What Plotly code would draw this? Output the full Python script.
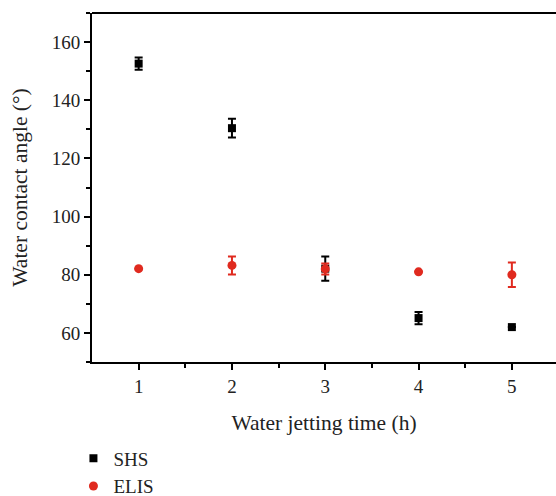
import plotly.graph_objects as go

time_h = [1, 2, 3, 4, 5]
shs_angle = [152.6, 130.4, 82.1, 65.1, 62.0]
shs_err = [2.1, 3.2, 4.2, 2.1, 0.0]
elis_angle = [82.1, 83.2, 82.0, 81.0, 80.0]
elis_err = [0.0, 3.1, 1.9, 0.0, 4.2]

font_family = "Liberation Serif"
red = "#e02a1f"

fig = go.Figure()
fig.add_trace(go.Scatter(
    x=time_h, y=shs_angle, mode="markers", name="SHS",
    marker=dict(symbol="square", size=8, color="black"),
    error_y=dict(type="data", array=shs_err, visible=True, color="black", thickness=2, width=4),
))
fig.add_trace(go.Scatter(
    x=time_h, y=elis_angle, mode="markers", name="ELIS",
    marker=dict(symbol="circle", size=9, color=red),
    error_y=dict(type="data", array=elis_err, visible=True, color=red, thickness=2, width=4),
))

axis_common = dict(
    showgrid=False, zeroline=False, showline=True, linecolor="black", linewidth=2,
    ticks="outside", ticklen=6, tickwidth=2, tickcolor="black", automargin=False,
    tickfont=dict(family=font_family, size=19, color="#222"),
)
fig.update_xaxes(
    range=[0.5, 5.473], tickvals=[1, 2, 3, 4, 5],
    minor=dict(tickvals=[1.5, 2.5, 3.5, 4.5], ticks="outside", ticklen=4, tickwidth=2, tickcolor="black"),
    title=dict(text="Water jetting time (h)", font=dict(family=font_family, size=21.5, color="#222"), standoff=19),
    **axis_common,
)
fig.update_yaxes(
    range=[50, 170], tickvals=[60, 80, 100, 120, 140, 160],
    minor=dict(tickvals=[50, 70, 90, 110, 130, 150, 170], ticks="outside", ticklen=4, tickwidth=2, tickcolor="black"),
    title=dict(text="Water contact angle (°)", font=dict(family=font_family, size=21.5, color="#222"), standoff=18),
    **axis_common,
)
fig.add_shape(type="line", xref="paper", yref="paper", x0=0, x1=1, y0=1, y1=1,
              line=dict(color="black", width=2))

fig.update_layout(
    width=556, height=496,
    margin=dict(l=92, r=0, t=13, b=134, autoexpand=False),
    paper_bgcolor="white", plot_bgcolor="white",
    showlegend=True,
    legend=dict(x=-0.04, y=-0.222, xanchor="left", yanchor="top",
                font=dict(family=font_family, size=19, color="#222"),
                bgcolor="rgba(0,0,0,0)", tracegroupgap=0),
)

fig.write_html("out.html", config={"displayModeBar": False},
               post_script="document.body.style.margin='0px';document.body.style.overflow='hidden';")
